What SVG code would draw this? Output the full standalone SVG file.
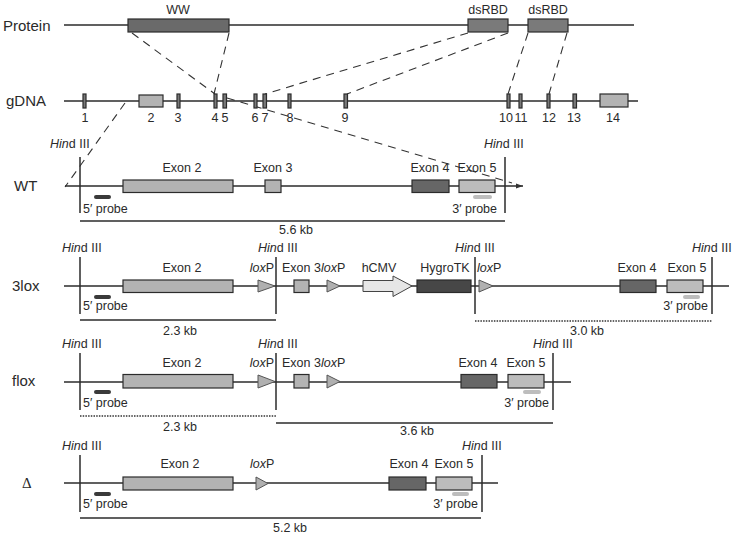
<svg xmlns="http://www.w3.org/2000/svg" width="737" height="537" viewBox="0 0 737 537">
<defs>
<style>
text{font-family:"Liberation Sans",Arial,Helvetica,sans-serif;font-size:12.5px;fill:#2a2a2a}
.big{font-size:15px}
.it{font-style:italic}
.mid{text-anchor:middle}
.end{text-anchor:end}
.ln{stroke:#2b2b2b;stroke-width:1.3;fill:none}
.vl{stroke:#2b2b2b;stroke-width:1.5;fill:none}
.dash{stroke:#333;stroke-width:1.1;stroke-dasharray:8 6;fill:none}
.dot{stroke:#333;stroke-width:1.3;stroke-dasharray:1.5 1.2;fill:none}
.bx{stroke:#2b2b2b;stroke-width:1.2}
.dk{fill:#666}
.pr{fill:#6a6a6a}
.ds{fill:#7a7a7a}
.lt{fill:#b3b3b3}
.e5{fill:#bcbcbc}
.hy{fill:#474747}
.lox{fill:#b0b0b0;stroke:#555;stroke-width:1}
.p5{stroke:#3a3a3a;stroke-width:4;stroke-linecap:round}
.p3{stroke:#bdbdbd;stroke-width:4;stroke-linecap:round}
</style>
<marker id="arr" markerWidth="8" markerHeight="6" refX="7" refY="3" orient="auto" markerUnits="userSpaceOnUse">
<path d="M0,0.5 L7,3 L0,5.5 Z" fill="#333"/>
</marker>
</defs>
<rect width="737" height="537" fill="#fff"/>

<g id="connectors">
<line class="dash" x1="132" y1="33" x2="215" y2="94"/>
<line class="dash" x1="229" y1="33" x2="214" y2="94"/>
<line class="dash" x1="468" y1="33" x2="265" y2="94"/>
<line class="dash" x1="508" y1="33" x2="347" y2="94"/>
<line class="dash" x1="528" y1="33" x2="508" y2="94"/>
<line class="dash" x1="567" y1="33" x2="549" y2="94"/>
<line class="dash" x1="125" y1="103" x2="65" y2="187"/>
<line class="dash" x1="227" y1="98" x2="512" y2="183"/>
</g>

<g id="protein">
<text class="big" x="3" y="31">Protein</text>
<line class="ln" x1="64" y1="25" x2="634" y2="25"/>
<rect class="bx pr" x="128" y="19" width="101" height="13"/>
<text class="mid" x="178" y="14">WW</text>
<rect class="bx ds" x="468" y="19" width="40" height="13"/>
<text class="mid" x="488" y="14">dsRBD</text>
<rect class="bx ds" x="528" y="19" width="40" height="13"/>
<text class="mid" x="548" y="14">dsRBD</text>
</g>

<g id="gdna">
<text class="big" x="6" y="106">gDNA</text>
<line class="ln" x1="64" y1="101" x2="638" y2="101"/>
<g class="bx">
<rect class="ds" x="83" y="94" width="3" height="14"/>
<rect class="lt" x="139" y="95" width="24" height="12"/>
<rect class="ds" x="177" y="94" width="3" height="14"/>
<rect class="ds" x="214" y="94" width="3" height="14"/>
<rect class="ds" x="223" y="94" width="3.5" height="14"/>
<rect class="ds" x="254" y="94" width="3" height="14"/>
<rect class="ds" x="263" y="94" width="3.5" height="14"/>
<rect class="ds" x="288" y="94" width="3" height="14"/>
<rect class="ds" x="344" y="94" width="3.5" height="14"/>
<rect class="ds" x="507" y="94" width="3" height="14"/>
<rect class="ds" x="519" y="94" width="3" height="14"/>
<rect class="ds" x="547" y="94" width="3" height="14"/>
<rect class="ds" x="573" y="94" width="3.5" height="14"/>
<rect class="lt" x="600" y="94" width="28" height="13"/>
</g>
<g class="mid">
<text x="85" y="122">1</text>
<text x="151" y="122">2</text>
<text x="178" y="122">3</text>
<text x="215" y="122">4</text>
<text x="225" y="122">5</text>
<text x="255" y="122">6</text>
<text x="265" y="122">7</text>
<text x="290" y="122">8</text>
<text x="345" y="122">9</text>
<text x="506" y="122">10</text>
<text x="521" y="122">11</text>
<text x="549" y="122">12</text>
<text x="574" y="122">13</text>
<text x="613" y="122">14</text>
</g>
</g>

<g id="wt">
<text class="big" x="14" y="191">WT</text>
<line class="ln" x1="65" y1="186" x2="523" y2="186" marker-end="url(#arr)"/>
<line class="vl" x1="80" y1="157" x2="80" y2="213"/>
<line class="vl" x1="505" y1="157" x2="505" y2="213"/>
<text x="50" y="148"><tspan class="it">Hin</tspan>d III</text>
<text x="484" y="148"><tspan class="it">Hin</tspan>d III</text>
<rect class="bx lt" x="123" y="180" width="110" height="12.5"/>
<text class="mid" x="182" y="172">Exon 2</text>
<rect class="bx lt" x="265" y="180" width="16" height="12.5"/>
<text class="mid" x="273" y="172">Exon 3</text>
<rect class="bx dk" x="412" y="180" width="37" height="12.5"/>
<text class="mid" x="430" y="172">Exon 4</text>
<rect class="bx e5" x="459" y="180" width="36" height="12.5"/>
<text class="mid" x="477" y="172">Exon 5</text>
<line class="p5" x1="96" y1="197" x2="109" y2="197"/>
<text x="83" y="213">5′ probe</text>
<line class="p3" x1="475" y1="197" x2="490" y2="197"/>
<text class="end" x="497" y="213">3′ probe</text>
<line class="ln" x1="80" y1="221" x2="505" y2="221"/>
<text class="mid" x="296" y="234">5.6 kb</text>
</g>

<g id="lox3">
<text class="big" x="12" y="291">3lox</text>
<line class="ln" x1="64" y1="286" x2="729" y2="286"/>
<line class="vl" x1="80" y1="257" x2="80" y2="314"/>
<line class="vl" x1="276" y1="257" x2="276" y2="314"/>
<line class="vl" x1="475" y1="257" x2="475" y2="314"/>
<line class="vl" x1="712" y1="257" x2="712" y2="314"/>
<text x="62" y="252"><tspan class="it">Hin</tspan>d III</text>
<text x="258" y="252"><tspan class="it">Hin</tspan>d III</text>
<text x="455" y="252"><tspan class="it">Hin</tspan>d III</text>
<text x="692" y="252"><tspan class="it">Hin</tspan>d III</text>
<rect class="bx lt" x="123" y="280" width="110" height="12.5"/>
<text class="mid" x="182" y="272">Exon 2</text>
<polygon class="lox" points="258,280 275,286 258,292"/>
<text class="end" x="274" y="272"><tspan class="it">lox</tspan>P</text>
<rect class="bx lt" x="294" y="280" width="15" height="12.5"/>
<text x="282" y="272">Exon 3</text>
<polygon class="lox" points="327,280 340,286 327,292"/>
<text x="321" y="272"><tspan class="it">lox</tspan>P</text>
<polygon points="363,280.5 393,280.5 393,276 412,286 393,296.5 393,291.5 363,291.5" fill="#e6e6e6" stroke="#444" stroke-width="1"/>
<text class="mid" x="379" y="272">hCMV</text>
<rect class="bx hy" x="417" y="280" width="54" height="12.5"/>
<text class="mid" x="445" y="272">HygroTK</text>
<polygon class="lox" points="479,280 493,286 479,292"/>
<text x="477" y="272"><tspan class="it">lox</tspan>P</text>
<rect class="bx dk" x="620" y="280" width="36" height="12.5"/>
<text class="mid" x="637" y="272">Exon 4</text>
<rect class="bx e5" x="667" y="280" width="36" height="12.5"/>
<text class="mid" x="687" y="272">Exon 5</text>
<line class="p5" x1="96" y1="297" x2="109" y2="297"/>
<text x="83" y="310">5′ probe</text>
<line class="p3" x1="685" y1="297" x2="698" y2="297"/>
<text class="end" x="708" y="310">3′ probe</text>
<line class="ln" x1="80" y1="320" x2="276" y2="320"/>
<text class="mid" x="180" y="335">2.3 kb</text>
<line class="dot" x1="475" y1="321" x2="712" y2="321"/>
<text class="mid" x="587" y="335">3.0 kb</text>
</g>

<g id="flox">
<text class="big" x="12" y="386">flox</text>
<line class="ln" x1="64" y1="382" x2="571" y2="382"/>
<line class="vl" x1="80" y1="353" x2="80" y2="410"/>
<line class="vl" x1="276" y1="353" x2="276" y2="410"/>
<line class="vl" x1="553" y1="353" x2="553" y2="410"/>
<text x="62" y="348"><tspan class="it">Hin</tspan>d III</text>
<text x="258" y="348"><tspan class="it">Hin</tspan>d III</text>
<text x="533" y="348"><tspan class="it">Hin</tspan>d III</text>
<rect class="bx lt" x="123" y="374.5" width="110" height="13.5"/>
<text class="mid" x="182" y="367">Exon 2</text>
<polygon class="lox" points="258,375 275,381.5 258,388"/>
<text class="end" x="274" y="367"><tspan class="it">lox</tspan>P</text>
<rect class="bx lt" x="294" y="374.5" width="15" height="13.5"/>
<text x="282" y="367">Exon 3</text>
<polygon class="lox" points="327,375 340,381.5 327,388"/>
<text x="321" y="367"><tspan class="it">lox</tspan>P</text>
<rect class="bx dk" x="461" y="374.5" width="36" height="13.5"/>
<text class="mid" x="478" y="367">Exon 4</text>
<rect class="bx e5" x="508" y="374.5" width="36" height="13.5"/>
<text class="mid" x="526" y="367">Exon 5</text>
<line class="p5" x1="96" y1="392" x2="109" y2="392"/>
<text x="83" y="407">5′ probe</text>
<line class="p3" x1="525" y1="392" x2="539" y2="392"/>
<text class="end" x="549" y="407">3′ probe</text>
<line class="dot" x1="80" y1="416" x2="276" y2="416"/>
<text class="mid" x="180" y="431">2.3 kb</text>
<line class="ln" x1="276" y1="423" x2="553" y2="423"/>
<text class="mid" x="417" y="435">3.6 kb</text>
</g>

<g id="delta">
<text x="22" y="488" style="font-family:'Liberation Serif','Times New Roman',serif;font-size:15px">Δ</text>
<line class="ln" x1="64" y1="483" x2="498" y2="483"/>
<line class="vl" x1="80" y1="455" x2="80" y2="512"/>
<line class="vl" x1="482" y1="455" x2="482" y2="512"/>
<text x="62" y="450"><tspan class="it">Hin</tspan>d III</text>
<text x="462" y="450"><tspan class="it">Hin</tspan>d III</text>
<rect class="bx lt" x="123" y="477" width="110" height="13"/>
<text class="mid" x="180" y="468">Exon 2</text>
<polygon class="lox" points="256,477 268,483.5 256,490"/>
<text x="250" y="468"><tspan class="it">lox</tspan>P</text>
<rect class="bx dk" x="389" y="477" width="37" height="13"/>
<text class="mid" x="409" y="468">Exon 4</text>
<rect class="bx e5" x="436" y="477" width="36" height="13"/>
<text class="mid" x="454" y="468">Exon 5</text>
<line class="p5" x1="96" y1="494" x2="109" y2="494"/>
<text x="83" y="508">5′ probe</text>
<line class="p3" x1="454" y1="494" x2="467" y2="494"/>
<text class="end" x="478" y="508">3′ probe</text>
<line class="ln" x1="80" y1="518" x2="481" y2="518"/>
<text class="mid" x="290" y="532">5.2 kb</text>
</g>
</svg>
